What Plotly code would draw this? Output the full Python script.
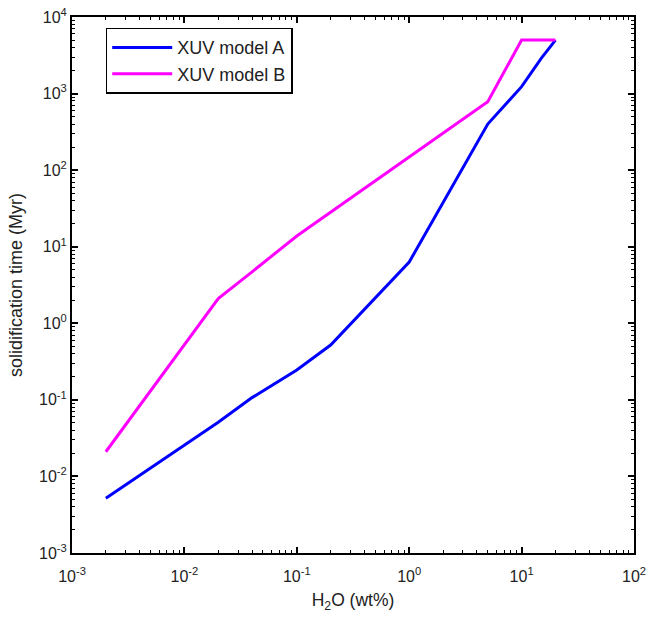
import plotly.graph_objects as go

x_a = [0.002, 0.02, 0.04, 0.1, 0.2, 1, 5, 10, 15, 20]
y_a = [0.0052, 0.051, 0.107, 0.245, 0.52, 6.3, 400, 1230, 2900, 5000]
x_b = [0.002, 0.02, 0.04, 0.1, 5, 10, 20]
y_b = [0.021, 2.1, 4.7, 13.8, 780, 5000, 5000]

x_decades = list(range(-3, 3))
y_decades = list(range(-3, 5))

def all_ticks(decades):
    vals, texts = [], []
    for d in decades:
        vals.append(10.0 ** d)
        texts.append(f"10<sup>{d}</sup>")
        if d != decades[-1]:
            for m in range(2, 10):
                vals.append(m * 10.0 ** d)
                texts.append("")
    return vals, texts

x_vals, x_texts = all_ticks(x_decades)
y_vals, y_texts = all_ticks(y_decades)

FONT = "Liberation Sans, Arial"
axis_common = dict(
    type="log", showgrid=False, zeroline=False, automargin=False,
    showline=True, linecolor="black", linewidth=2, mirror="allticks",
    ticks="inside", ticklen=3, tickwidth=1, tickcolor="black", tickmode="array",
    tickfont=dict(family=FONT, size=16, color="#222"),
)
major_common = dict(
    type="log", showgrid=False, zeroline=False, automargin=False,
    showline=False, mirror="allticks", showticklabels=False,
    ticks="inside", ticklen=6, tickwidth=1.5, tickcolor="black", tickmode="array",
)

fig = go.Figure()
fig.add_trace(go.Scatter(x=x_a, y=y_a, mode="lines", name="XUV model A",
                         line=dict(color="#0000FF", width=3)))
fig.add_trace(go.Scatter(x=x_b, y=y_b, mode="lines", name="XUV model B",
                         xaxis="x2", yaxis="y2",
                         line=dict(color="#FF00FF", width=3)))

fig.update_layout(
    xaxis=dict(**axis_common, range=[-3, 2], tickvals=x_vals, ticktext=x_texts,
               ticklabelstandoff=8,
               title=dict(text="H<sub>2</sub>O (wt%)", font=dict(family=FONT, size=17.5, color="#222"), standoff=10)),
    yaxis=dict(**axis_common, range=[-3, 4], tickvals=y_vals, ticktext=y_texts,
               title=dict(text="solidification time (Myr)", font=dict(family=FONT, size=18, color="#222"), standoff=12)),
    xaxis2=dict(**major_common, overlaying="x", anchor="y2", side="bottom", range=[-3, 2],
                tickvals=[10.0 ** d for d in x_decades]),
    yaxis2=dict(**major_common, overlaying="y", anchor="x2", side="left", range=[-3, 4],
                tickvals=[10.0 ** d for d in y_decades]),
    width=651, height=618,
    margin=dict(l=72, r=17, t=17, b=65),
    plot_bgcolor="white", paper_bgcolor="white",
    legend=dict(x=0.06, y=0.98, xanchor="left", yanchor="top",
                bordercolor="black", borderwidth=1.5, bgcolor="white",
                font=dict(family=FONT, size=18, color="#222"),
                tracegroupgap=2, itemwidth=60),
)
fig.write_html("out.html", config={"displayModeBar": False},
               post_script="document.body.style.margin='0px';")
